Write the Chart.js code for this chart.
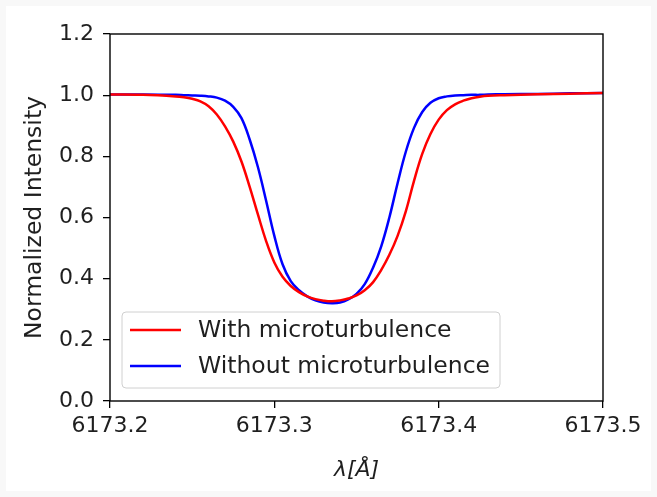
<!DOCTYPE html>
<html>
<head>
<meta charset="utf-8">
<script src="https://cdn.jsdelivr.net/npm/chart.js@4.4.0/dist/chart.umd.min.js"></script>
<style>
  html, body { margin: 0; padding: 0; background: #f8f8f8; }
  #wrap { width: 657px; height: 497px; position: relative; }
</style>
</head>
<body>
<div id="wrap"><canvas id="profile" width="657" height="497"></canvas></div>
<script>
// wavelength grid (Angstrom)
var wavelength = [6173.20, 6173.22, 6173.24, 6173.245, 6173.25, 6173.255, 6173.26, 6173.265,
  6173.27, 6173.275, 6173.28, 6173.285, 6173.29, 6173.295, 6173.30, 6173.305, 6173.31,
  6173.315, 6173.32, 6173.325, 6173.33, 6173.335, 6173.34, 6173.345, 6173.35, 6173.355,
  6173.36, 6173.365, 6173.37, 6173.375, 6173.38, 6173.385, 6173.39, 6173.395, 6173.40,
  6173.405, 6173.41, 6173.415, 6173.42, 6173.425, 6173.43, 6173.44, 6173.46, 6173.48, 6173.50];

var withMicro = [1.002, 1.001, 0.996, 0.993, 0.988, 0.980, 0.964, 0.937,
  0.898, 0.848, 0.783, 0.700, 0.610, 0.523, 0.453, 0.406, 0.376,
  0.356, 0.342, 0.333, 0.328, 0.326, 0.329, 0.335, 0.345, 0.362,
  0.388, 0.428, 0.478, 0.540, 0.620, 0.720, 0.808, 0.873, 0.920,
  0.951, 0.970, 0.982, 0.990, 0.995, 0.998, 1.000, 1.003, 1.005, 1.007];

var withoutMicro = [1.002, 1.002, 1.001, 1.000, 0.999, 0.998, 0.996, 0.992,
  0.982, 0.962, 0.925, 0.855, 0.765, 0.655, 0.540, 0.447, 0.392,
  0.362, 0.342, 0.329, 0.322, 0.320, 0.322, 0.332, 0.350, 0.382,
  0.435, 0.505, 0.600, 0.712, 0.815, 0.893, 0.945, 0.975, 0.990,
  0.996, 0.999, 1.000, 1.001, 1.001, 1.002, 1.003, 1.004, 1.006, 1.007];

var seriesNames = ['With microturbulence', 'Without microturbulence'];
var seriesColors = ['#ff0000', '#0000ff'];

var FONT = 'DejaVu Sans';
var TXT = '#1f1f1f';

function pairs(ys) {
  return wavelength.map(function (w, i) { return { x: w, y: ys[i] }; });
}

// grey page edge + white figure
var background = {
  id: 'background',
  beforeDraw: function (chart) {
    var c = chart.ctx;
    c.save();
    c.fillStyle = '#f8f8f8';
    c.fillRect(0, 0, chart.width, chart.height);
    c.fillStyle = '#ffffff';
    c.fillRect(6, 6, chart.width - 12, chart.height - 12);
    c.restore();
  }
};

// full box round the axes, like matplotlib spines
var frame = {
  id: 'frame',
  afterDatasetsDraw: function (chart) {
    var a = chart.chartArea, c = chart.ctx;
    c.save();
    c.strokeStyle = '#000';
    c.lineWidth = 1.4;
    c.strokeRect(a.left, a.top, a.right - a.left, a.bottom - a.top);
    c.restore();
  }
};

// legend box inside the axes, lower left
var boxLegend = {
  id: 'boxLegend',
  afterDraw: function (chart) {
    var c = chart.ctx;
    var x = 122, y = 312, w = 378, h = 76, r = 4;
    c.save();
    c.beginPath();
    c.moveTo(x + r, y);
    c.arcTo(x + w, y, x + w, y + h, r);
    c.arcTo(x + w, y + h, x, y + h, r);
    c.arcTo(x, y + h, x, y, r);
    c.arcTo(x, y, x + w, y, r);
    c.closePath();
    c.fillStyle = 'rgba(255,255,255,0.85)';
    c.fill();
    c.strokeStyle = '#d0d0d0';
    c.lineWidth = 1;
    c.stroke();
    chart.data.datasets.forEach(function (ds, i) {
      var ly = 330 + i * 36;
      c.strokeStyle = ds.borderColor;
      c.lineWidth = 2.5;
      c.beginPath();
      c.moveTo(130, ly);
      c.lineTo(181, ly);
      c.stroke();
      c.fillStyle = TXT;
      c.font = '23.5px "' + FONT + '"';
      c.textBaseline = 'middle';
      c.textAlign = 'left';
      c.fillText(ds.label, 198, ly + 1);
    });
    c.restore();
  }
};

new Chart(document.getElementById('profile'), {
  type: 'line',
  data: {
    datasets: [{
      label: seriesNames[0],
      data: pairs(withMicro),
      borderColor: seriesColors[0],
      borderWidth: 2.5,
      pointRadius: 0,
      fill: false,
      tension: 0.4
    }, {
      label: seriesNames[1],
      data: pairs(withoutMicro),
      borderColor: seriesColors[1],
      borderWidth: 2.5,
      pointRadius: 0,
      fill: false,
      tension: 0.4
    }]
  },
  options: {
    responsive: false,
    animation: false,
    layout: { padding: { left: 0, top: 34, right: 54, bottom: 0 } },
    plugins: {
      legend: { display: false },
      tooltip: { enabled: false }
    },
    scales: {
      x: {
        type: 'linear',
        min: 6173.2,
        max: 6173.5,
        afterFit: function (s) { s.height = 96; },
        ticks: {
          stepSize: 0.1,
          padding: 5,
          color: TXT,
          font: { family: FONT, size: 22 },
          callback: function (v) { return v.toFixed(1); }
        },
        grid: { drawOnChartArea: false, drawTicks: true, tickLength: 7, color: '#000', lineWidth: 1.3 },
        border: { display: false },
        title: {
          display: true,
          text: 'λ[Å]',
          color: TXT,
          font: { family: FONT, size: 22, style: 'italic' },
          padding: { top: 0, bottom: 14 }
        }
      },
      y: {
        min: 0,
        max: 1.2,
        afterFit: function (s) { s.width = 110; },
        ticks: {
          stepSize: 0.2,
          padding: 9,
          color: TXT,
          font: { family: FONT, size: 22 },
          callback: function (v) { return v.toFixed(1); }
        },
        grid: { drawOnChartArea: false, drawTicks: true, tickLength: 7, color: '#000', lineWidth: 1.3 },
        border: { display: false },
        title: {
          display: true,
          text: 'Normalized Intensity',
          color: TXT,
          font: { family: FONT, size: 23.5 },
          padding: { top: 21, bottom: 0 }
        }
      }
    }
  },
  plugins: [background, frame, boxLegend]
});
</script>
</body>
</html>
